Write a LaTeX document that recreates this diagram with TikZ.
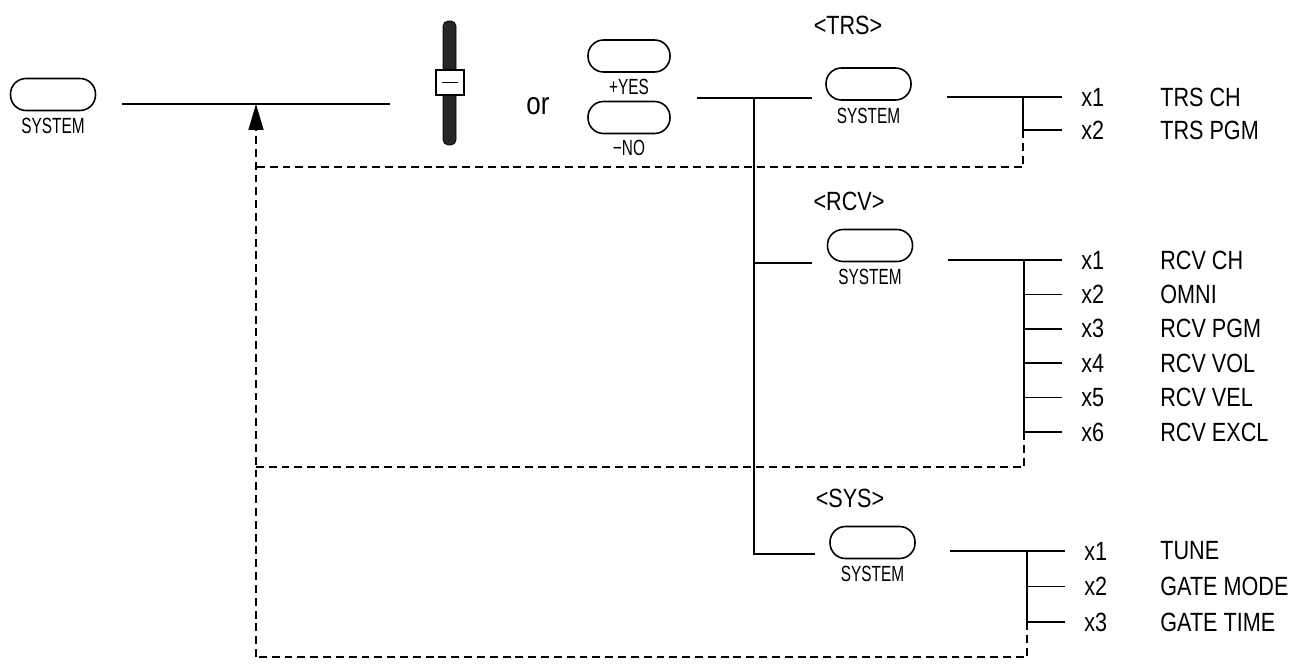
\documentclass[tikz,border=0pt]{standalone}
\usepackage{fontspec}
\setmainfont{Liberation Sans}[FakeStretch=0.82]
\newfontfamily\keyfont{Liberation Sans}[FakeStretch=0.7]
\usetikzlibrary{arrows.meta,positioning}

\begin{document}
\begin{tikzpicture}[
    x=0.02cm, y=-0.02cm,
    conn/.style={line width=0.9pt},
    ret/.style={line width=0.9pt, dash pattern=on 4.5pt off 2.8pt},
    key/.style={draw, line width=0.9pt, rectangle, rounded corners=0.31cm, minimum width=1.7cm, minimum height=0.64cm, inner sep=0pt},
    keylbl/.style={font=\keyfont\fontsize{12.5}{12.5}\selectfont, inner sep=0pt},
    head/.style={font=\fontsize{15}{15}\selectfont, inner sep=0pt},
    xnum/.style={font=\fontsize{15}{15}\selectfont, anchor=west, inner xsep=0.38cm, inner ysep=0pt},
    item/.style={font=\fontsize{15}{15}\selectfont, anchor=west, inner sep=0pt}
]
\useasboundingbox (0,0) rectangle (1300,665);

% start key, fader and yes/no keys
\node[key] (sys) at (53,94.5) {};
\node[keylbl, below=0.14cm of sys] (syslbl) {SYSTEM};
\coordinate (mainL) at (122,104);
\coordinate (mainR) at (390,104);
\draw[conn] (mainL) -- (mainR);

\node[draw, fill=black!85, minimum width=0.26cm, minimum height=2.48cm, rounded corners=0.1cm, inner sep=0pt] (fader) at (449.5,83) {};
\node[draw, fill=white, line width=0.8pt, minimum width=0.56cm, minimum height=0.5cm, inner sep=0pt] (knob) at (450,82.5) {\rule{0.32cm}{0.8pt}};
\node[font=\fontsize{18}{18}\selectfont, inner sep=0pt] (or) at (538,106) {or};

\node[key, minimum width=1.64cm] (yes) at (629,56) {};
\node[keylbl, below=0.12cm of yes] (yeslbl) {+YES};
\node[key, minimum width=1.64cm] (no) at (629,117.5) {};
\node[keylbl, below=0.12cm of no] (nolbl) {−NO};

% trunk
\coordinate (fork) at (697,98);
\coordinate (tap) at (754,98);
\coordinate (trsL) at (812,98);
\coordinate (rcvL) at (812,263);
\coordinate (sysL) at (815,554);
\draw[conn] (fork) -- (trsL);
\draw[conn] (tap) |- (sysL);
\draw[conn] (tap |- rcvL) -- (rcvL);

% return path
\coordinate (up) at (256,104);
\coordinate (rettrs) at (256,167);
\coordinate (retrcv) at (256,467);
\coordinate (retsys) at (256,657);
\draw[ret, -{Triangle[length=0.52cm, width=0.3cm]}] (retsys) -- (up);

% <TRS>
\node[head] (trshd) at (848,25) {<TRS>};
\node[key] (trs) at (868.5,84) {};
\node[keylbl, below=0.14cm of trs] (trslbl) {SYSTEM};
\coordinate (trsR) at (947,97);
\coordinate (trsbr) at (1023,97);
\foreach \t [count=\i] in {TRS CH,TRS PGM} {
    \node[xnum] (trsx\i) at (1062,{97+33*(\i-1)}) {x\i};
    \node[item] (trsn\i) at (1160,{97+33*(\i-1)}) {\t};
}
\draw[conn] (trsR) -- (trsx1);
\draw[conn] (trsbr) |- (trsx2);
\draw[ret] (trsbr |- trsx2) |- (rettrs);

% <RCV>
\node[head] (rcvhd) at (849,201) {<RCV>};
\node[key] (rcv) at (870,245.5) {};
\node[keylbl, below=0.14cm of rcv] (rcvlbl) {SYSTEM};
\coordinate (rcvR) at (948,260);
\coordinate (rcvbr) at (1024,260);
\foreach \t [count=\i] in {RCV CH,OMNI,RCV PGM,RCV VOL,RCV VEL,RCV EXCL} {
    \node[xnum] (rcvx\i) at (1062,{260+34.4*(\i-1)}) {x\i};
    \node[item] (rcvn\i) at (1160,{260+34.4*(\i-1)}) {\t};
}
\draw[conn] (rcvR) -- (rcvx1);
\foreach \i in {2,...,6}
    \draw[conn] (rcvbr) |- (rcvx\i);
\draw[ret] (rcvbr |- rcvx6) |- (retrcv);

% <SYS>
\node[head] (syshd) at (850,498) {<SYS>};
\node[key] (syssel) at (872.5,542.5) {};
\node[keylbl, below=0.14cm of syssel] (syssellbl) {SYSTEM};
\coordinate (sysR) at (950,551);
\coordinate (sysbr) at (1027,551);
\foreach \t [count=\i] in {TUNE,GATE MODE,GATE TIME} {
    \node[xnum] (sysx\i) at (1065,{551+35.5*(\i-1)}) {x\i};
    \node[item] (sysn\i) at (1160,{551+35.5*(\i-1)}) {\t};
}
\draw[conn] (sysR) -- (sysx1);
\foreach \i in {2,3}
    \draw[conn] (sysbr) |- (sysx\i);
\draw[ret] (sysbr |- sysx3) |- (retsys);
\end{tikzpicture}
\end{document}
